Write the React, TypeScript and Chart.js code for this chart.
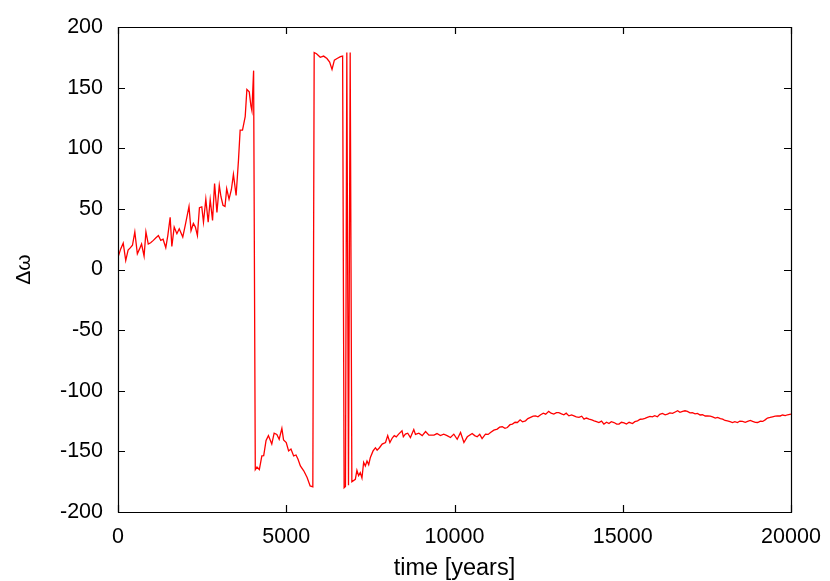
import React, { useEffect, useRef } from "react";
import { Chart, registerables } from "chart.js";

Chart.register(...registerables);

// time [years]
const times: number[] = [
  0, 80, 155, 230, 300, 370, 430, 500, 575, 640, 700, 775, 830, 900, 970, 1050, 1120, 1200, 1270, 1340,
  1420, 1480, 1550, 1600, 1670, 1750, 1820, 1925, 2010, 2110, 2170, 2240, 2300, 2360, 2420, 2490, 2540,
  2610, 2680, 2740, 2810, 2870, 2940, 3010, 3060, 3120, 3180, 3230, 3300, 3370, 3430, 3510, 3580, 3630,
  3700, 3780, 3830, 3900, 3950, 3980, 4030, 4080, 4130, 4200, 4275, 4330, 4400, 4470, 4570, 4640, 4720,
  4790, 4870, 4920, 5000, 5070, 5140, 5220, 5290, 5350, 5420, 5520, 5620, 5710, 5790, 5830, 5900, 6010,
  6110, 6210, 6290, 6360, 6430, 6510, 6610, 6675, 6720, 6760, 6800, 6850, 6900, 6950, 7053, 7100, 7150,
  7200, 7250, 7300, 7350, 7400, 7450, 7500, 7580, 7650, 7700, 7770, 7850, 7950, 8015, 8080, 8150, 8210,
  8270, 8340, 8440, 8480, 8540, 8610, 8690, 8790, 8840, 8940, 9040, 9140, 9240, 9390, 9480, 9580, 9680,
  9780, 9880, 9980, 10080, 10180, 10280, 10380, 10525, 10600, 10675, 10750, 10820, 10920, 11000, 11070,
  11170, 11270, 11340, 11420, 11500, 11570, 11650, 11720, 11800, 11870, 11950, 12020, 12110, 12180, 12260,
  12340, 12410, 12480, 12560, 12640, 12710, 12800, 12870, 12950, 13030, 13100, 13180, 13250, 13320, 13400,
  13480, 13550, 13620, 13700, 13780, 13850, 13920, 14000, 14080, 14150, 14220, 14290, 14370, 14440, 14520,
  14590, 14660, 14740, 14820, 14890, 14960, 15040, 15110, 15190, 15290, 15360, 15440, 15520, 15590, 15660,
  15730, 15810, 15880, 15950, 16030, 16100, 16180, 16260, 16330, 16400, 16480, 16560, 16630, 16700, 16780,
  16850, 16920, 17000, 17070, 17150, 17220, 17300, 17370, 17450, 17520, 17600, 17670, 17750, 17820, 17900,
  17970, 18040, 18110, 18190, 18260, 18330, 18410, 18480, 18560, 18640, 18710, 18790, 18860, 18940, 19010,
  19090, 19160, 19230, 19300, 19380, 19450, 19530, 19600, 19680, 19750, 19830, 19900, 20000,
];

// Δω
const deltaOmega: number[] = [
  10, 17, 21.7, 7.4, 16, 18, 20, 31, 13, 17, 21, 11, 31, 21, 22, 24, 26, 28, 24, 25,
  18, 28, 43, 19, 35, 29.5, 33.6, 26.7, 38, 52, 32, 38, 35, 28, 51, 51.6, 39,
  58, 39, 57.6, 40.5, 70.8, 47, 69.4, 60, 53, 52, 66.7, 58, 66, 78.5, 61, 90, 115,
  115, 126, 148.5, 146.5, 135, 131, 164, -165, -163, -165, -153.7, -153.5, -141, -137, -144, -135, -136,
  -140, -131, -140.5, -142.7, -149.6, -148, -153.7, -153, -156.5, -162, -166, -171.6, -178.5, -179.3, 179, 178, 175,
  176, 174, 171, 165, 172.7, 174, 175.5, 176, -180, -179, 179, -178, 179, -175, -173, -165.6, -170,
  -167.5, -172, -159, -162, -158, -161, -155, -149.6, -147, -149, -147, -144, -142.7, -137, -142.7, -139, -137,
  -138, -135.8, -133, -138, -135.8, -135, -138.6, -132, -136, -135, -137, -133.6, -136.6, -136.6, -135.3, -137, -135.8,
  -137, -138.6, -135.8, -140, -134.4, -142.7, -138, -135.3, -137, -138, -136, -139.4, -135.8, -136, -134.4,
  -132.5, -131.6, -130, -129.7, -131, -130.3, -128, -127.5, -126, -126.2, -124, -125.6, -124.8, -123, -122,
  -121, -120.7, -121.5, -119.8, -118.5, -119.3, -117, -118.5, -119.3, -118, -118, -119, -119.8, -118.5, -120.7,
  -120, -120.7, -121.5, -122, -121, -123.4, -122.5, -123.4, -124, -124.8, -125.5, -126.2, -125, -127.5, -126,
  -127, -125.5, -126.2, -127.5, -127.5, -126, -126.5, -127.5, -126, -127, -125.5, -124.8, -123.5, -123.4, -122.8,
  -122, -121.2, -121.5, -120.5, -121.5, -119.5, -118.7, -119.8, -119.3, -118.2, -118.7, -117.5, -116.5, -117.8, -117,
  -116.5, -117, -118.2, -118, -119, -118.7, -120, -119.8, -120.8, -120.7, -121, -121.5, -122.5, -122, -123,
  -123.4, -124.5, -124.8, -125.5, -126.2, -125.5, -126.2, -125, -125.3, -126, -125.3, -124.5, -125.3, -126, -126.2,
  -125, -125.3, -124, -122.5, -122, -121.5, -121, -120.7, -120.8, -120, -120.5, -119.8, -119.3,
];

const xTickStep = 5000;
const yTickStep = 50;
const xRange = [0, 20000];
const yRange = [-200, 200];
const xLabel = "time [years]";
const yLabel = "Δω";

const FONT = "'Liberation Sans', Arial, Helvetica, sans-serif";

const framePlugin = {
  id: "gnuplotFrame",
  afterDraw(chart: any) {
    const { ctx, chartArea } = chart;
    const { left, right, top, bottom } = chartArea;
    const tl = 7;
    ctx.save();
    ctx.strokeStyle = "#000";
    ctx.lineWidth = 1.2;
    ctx.beginPath();
    const xs = chart.scales.x;
    const ys = chart.scales.y;
    xs.ticks.forEach((t: any) => {
      const px = Math.round(xs.getPixelForValue(t.value)) + 0.5;
      ctx.moveTo(px, bottom);
      ctx.lineTo(px, bottom - tl);
      ctx.moveTo(px, top);
      ctx.lineTo(px, top + tl);
    });
    ys.ticks.forEach((t: any) => {
      const py = Math.round(ys.getPixelForValue(t.value)) + 0.5;
      ctx.moveTo(left, py);
      ctx.lineTo(left + tl, py);
      ctx.moveTo(right, py);
      ctx.lineTo(right - tl, py);
    });
    ctx.stroke();
    ctx.beginPath();
    ctx.rect(Math.round(left) + 0.5, Math.round(top) + 0.5, Math.round(right - left), Math.round(bottom - top));
    ctx.stroke();
    ctx.restore();
  },
};

export default function App() {
  const ref = useRef<HTMLCanvasElement | null>(null);
  useEffect(() => {
    if (!ref.current) return;
    const points = times.map((t, i) => ({ x: t, y: deltaOmega[i] }));
    const chart = new Chart(ref.current, {
      type: "line",
      data: {
        datasets: [
          {
            data: points,
            borderColor: "#ff0000",
            borderWidth: 1.3,
            pointRadius: 0,
            tension: 0,
            fill: false,
          },
        ],
      },
      options: {
        animation: false,
        responsive: false,
        devicePixelRatio: 1,
        layout: { padding: { left: 0, right: 39, top: 27, bottom: 0 } },
        plugins: { legend: { display: false }, tooltip: { enabled: false } },
        scales: {
          x: {
            type: "linear",
            min: xRange[0],
            max: xRange[1],
            grid: { display: false, drawTicks: false },
            border: { display: false },
            ticks: {
              stepSize: xTickStep,
              padding: 12,
              color: "#000",
              font: { family: FONT, size: 21.5 },
              maxRotation: 0,
              callback: (v: any) => String(v),
            },
            title: {
              display: true,
              text: xLabel,
              color: "#000",
              font: { family: FONT, size: 23.5 },
              padding: { top: 0, bottom: -2 },
            },
            afterFit: (s: any) => {
              s.height = 69;
              s.paddingLeft = 0;
              s.paddingRight = 0;
            },
          },
          y: {
            type: "linear",
            min: yRange[0],
            max: yRange[1],
            grid: { display: false, drawTicks: false },
            border: { display: false },
            ticks: {
              stepSize: yTickStep,
              padding: 15,
              color: "#000",
              font: { family: FONT, size: 21.5 },
              callback: (v: any) => String(v),
            },
            title: {
              display: true,
              text: yLabel,
              color: "#000",
              font: { family: FONT, size: 21 },
              padding: 12,
            },
            afterFit: (s: any) => {
              s.width = 118;
              s.paddingTop = 0;
              s.paddingBottom = 0;
            },
          },
        },
      },
      plugins: [framePlugin],
    });
    return () => chart.destroy();
  }, []);
  return (
    <div style={{ position: "absolute", left: 0, top: 0, width: 830, height: 581, background: "#fff" }}>
      <canvas ref={ref} width={830} height={581} />
    </div>
  );
}
